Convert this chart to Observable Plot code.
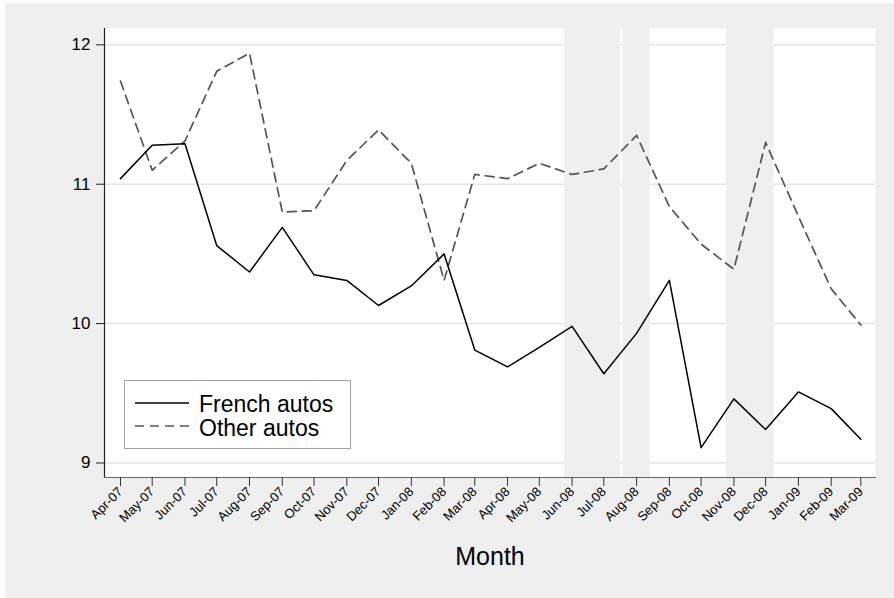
<!DOCTYPE html>
<html><head><meta charset="utf-8">
<script src="https://cdn.jsdelivr.net/npm/d3@7"></script>
<script src="https://cdn.jsdelivr.net/npm/@observablehq/plot@0.6"></script>
<style>
body{margin:0;background:#fff;font-family:"Liberation Sans",Arial,sans-serif;}
#wrap{position:relative;width:894px;height:598px;overflow:hidden;}
#bg{position:absolute;left:5px;top:3px;width:889px;height:595px;background:#efefef;}
#wrap svg{position:absolute;left:0;top:0;}
</style></head><body><div id="wrap"><div id="bg"></div></div>
<script>
const months = ["Apr-07","May-07","Jun-07","Jul-07","Aug-07","Sep-07","Oct-07","Nov-07","Dec-07","Jan-08","Feb-08","Mar-08",
                "Apr-08","May-08","Jun-08","Jul-08","Aug-08","Sep-08","Oct-08","Nov-08","Dec-08","Jan-09","Feb-09","Mar-09"];
const french = [11.04,11.28,11.29,10.56,10.37,10.69,10.35,10.31,10.13,10.27,10.50,9.81,
                9.69,9.83,9.98,9.64,9.93,10.31,9.11,9.46,9.24,9.51,9.39,9.17];
const other  = [11.74,11.10,11.31,11.81,11.94,10.80,10.81,11.17,11.39,11.15,10.31,11.07,
                11.04,11.15,11.07,11.11,11.35,10.84,10.57,10.39,11.30,10.77,10.25,9.99];
const yTicks = [9,10,11,12];
const bandStart = ["2008-05-25","2008-07-19","2008-10-25"];
const bandEnd   = ["2008-07-17","2008-08-14","2008-12-09"];
const seriesNames = ["French autos","Other autos"];
const xTitle = "Month";

const parseM = d3.utcParse("%b-%y");
const parseD = d3.utcParse("%Y-%m-%d");
const dates = months.map(parseM);
const frRows = dates.map((d,i)=>({date:d, value:french[i]}));
const otRows = dates.map((d,i)=>({date:d, value:other[i]}));
const bands = bandStart.map((s,i)=>({x1:parseD(s), x2:parseD(bandEnd[i])}));

const DAY = 864e5;
const xDomain = [new Date(dates[0].getTime() - 15.1*DAY), new Date(dates[dates.length-1].getTime() + 13.9*DAY)];
const FONT = "Liberation Sans, Arial, Helvetica, sans-serif";

const chart = Plot.plot({
  width: 894, height: 598,
  marginLeft: 104, marginRight: 19, marginTop: 28, marginBottom: 121,
  style: {background: "transparent", fontFamily: FONT, color: "#222"},
  x: {type: "utc", domain: xDomain},
  y: {domain: [8.896, 12.117]},
  marks: [
    Plot.frame({fill: "white", stroke: null}),
    Plot.gridY(yTicks, {stroke: "#e4e4e4", strokeOpacity: 1, strokeWidth: 1.5}),
    Plot.rect(bands, {x1: "x1", x2: "x2", fill: "#efefef"}),
    Plot.lineY(otRows, {x: "date", y: "value", stroke: "#555", strokeWidth: 1.7, strokeDasharray: "9,6"}),
    Plot.lineY(frRows, {x: "date", y: "value", stroke: "#000", strokeWidth: 1.5}),
    Plot.frame({anchor: "left", stroke: "#222", strokeWidth: 1.2}),
    Plot.frame({anchor: "bottom", stroke: "#666", strokeWidth: 1.2}),
    Plot.axisY(yTicks, {tickSize: 8, tickPadding: 6, fontSize: 17, label: null, stroke: "#222",
                        fill: "#000", tickFormat: d3.format("d")}),
    Plot.axisX(dates, {tickSize: 9, tickPadding: 3, tickRotate: -45, fontSize: 13, label: null,
                       fill: "#000", tickFormat: d3.utcFormat("%b-%y"), stroke: "#333"})
  ]
});
document.getElementById("wrap").appendChild(chart);

const svg = d3.select(chart);
const lg = svg.append("g").attr("text-anchor", "start");
lg.append("rect").attr("x", 124.5).attr("y", 380.5).attr("width", 226).attr("height", 68)
  .attr("fill", "white").attr("stroke", "#a0a0a0").attr("stroke-width", 1);
lg.append("line").attr("x1", 135).attr("x2", 189).attr("y1", 403).attr("y2", 403)
  .attr("stroke", "#000").attr("stroke-width", 1.5);
lg.append("line").attr("x1", 135).attr("x2", 189).attr("y1", 426).attr("y2", 426)
  .attr("stroke", "#555").attr("stroke-width", 1.7).attr("stroke-dasharray", "9,6");
lg.append("text").attr("x", 199).attr("y", 412).attr("text-anchor", "start").text(seriesNames[0])
  .attr("font-size", 23).attr("font-family", FONT).attr("fill", "#000");
lg.append("text").attr("x", 199).attr("y", 436).attr("text-anchor", "start").text(seriesNames[1])
  .attr("font-size", 23).attr("font-family", FONT).attr("fill", "#000");
svg.append("text").attr("x", 490).attr("y", 565).attr("text-anchor", "middle").text(xTitle)
  .attr("font-size", 25).attr("font-family", FONT).attr("fill", "#000");
</script>
</body></html>
